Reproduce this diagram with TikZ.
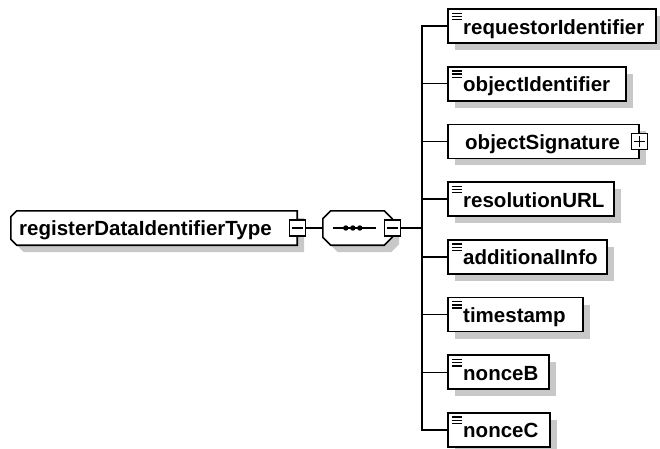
\documentclass[tikz,border=0pt]{standalone}
\usepackage{fontspec}
\setmainfont{Liberation Sans}
\usetikzlibrary{calc,shadows}
\definecolor{shadowgray}{RGB}{200,200,200}
\tikzset{
  shd/.style={drop shadow={shadow xshift=7pt, shadow yshift=-7pt, fill=shadowgray, opacity=1}},
  outline/.style={draw=black, line width=1.6pt, fill=white},
  childbox/.style={outline, shd, rectangle, anchor=west, minimum height=34pt, inner sep=0pt},
  expbox/.style={draw=black, line width=1.3pt, fill=white, rectangle, minimum size=16pt, inner sep=0pt},
  conn/.style={draw=black, line width=1.4pt},
  lbl/.style={anchor=base west, inner sep=0pt, font=\fontsize{20.5}{24}\selectfont\bfseries},
  icon/.style={draw=black, line width=1.4pt},
  ghost/.style={rectangle, inner sep=0pt, draw=none}
}
\begin{document}
\begin{tikzpicture}[x=1pt,y=-1pt]
\useasboundingbox (0,0) rectangle (660,448);
% main complex type
\node[ghost, minimum width=286pt, minimum height=34pt] (main) at (154,228) {};
\path[outline, shd] ($(main.north west)+(6,0)$) -- (main.north east) -- (main.south east)
  -- ($(main.south west)+(6,0)$) -- ($(main.south west)+(0,-6)$) -- ($(main.north west)+(0,6)$) -- cycle;
\node[lbl] (mainlbl) at (19,235.5) {registerDataIdentifierType};
\node[expbox] (m1) at (main.east) {};
\draw[line width=1.3pt] ($(m1.west)+(3,0)$) -- ($(m1.east)+(-3,0)$);
% sequence
\node[ghost, minimum width=69pt, minimum height=34pt] (seq) at (357.5,228) {};
\path[outline, shd] ($(seq.north west)+(8,0)$) -- ($(seq.north east)+(-8,0)$) -- ($(seq.north east)+(0,8)$)
  -- ($(seq.south east)+(0,-8)$) -- ($(seq.south east)+(-8,0)$) -- ($(seq.south west)+(8,0)$)
  -- ($(seq.south west)+(0,-8)$) -- ($(seq.north west)+(0,8)$) -- cycle;
\draw[line width=1.4pt] ($(seq.west)+(10,0)$) -- ($(seq.east)+(-16,0)$);
\foreach \dx in {23,30,37} \fill ($(seq.west)+(\dx,0)$) circle (2.7pt);
\node[expbox] (m2) at (seq.east) {};
\draw[line width=1.3pt] ($(m2.west)+(3,0)$) -- ($(m2.east)+(-3,0)$);
\draw[conn] (m1.east) -- (seq.west);
\coordinate (spine) at (422,228);
\draw[conn] (m2.east) -- (spine);
% children
\node[childbox, minimum width=208pt] (c1) at (447,26) {};
\node[childbox, minimum width=178pt] (c2) at (447,83.7) {};
\node[childbox, minimum width=191pt] (c3) at (447,141.4) {};
\node[childbox, minimum width=166pt] (c4) at (447,199.1) {};
\node[childbox, minimum width=159pt] (c5) at (447,256.8) {};
\node[childbox, minimum width=135pt] (c6) at (447,314.5) {};
\node[childbox, minimum width=101pt] (c7) at (447,372.2) {};
\node[childbox, minimum width=102pt] (c8) at (447,429.9) {};
\node[lbl] (t1) at ($(c1.west)+(16,8)$) {requestorIdentifier};
\node[lbl] (t2) at ($(c2.west)+(16,8)$) {objectIdentifier};
\node[lbl] (t3) at ($(c3.west)+(18,8)$) {objectSignature};
\node[lbl] (t4) at ($(c4.west)+(16,8)$) {resolutionURL};
\node[lbl] (t5) at ($(c5.west)+(16,8)$) {additionalInfo};
\node[lbl] (t6) at ($(c6.west)+(16,8)$) {timestamp};
\node[lbl] (t7) at ($(c7.west)+(16,8)$) {nonceB};
\node[lbl] (t8) at ($(c8.west)+(16,8)$) {nonceC};
% element icons
\foreach \c in {c1,c2,c4,c5,c6,c7,c8} {
  \foreach \dy in {5,8.2,11.4}
    \draw[icon] ($(\c.north west)+(5,\dy)$) -- ++(10,0);
}
% expand box on objectSignature
\node[expbox] (p3) at (c3.east) {};
\draw[line width=1.3pt] ($(p3.west)+(3,0)$) -- ($(p3.east)+(-3,0)$)
  ($(p3.north)+(0,3)$) -- ($(p3.south)+(0,-3)$);
% connectors
\draw[conn] (c1.west) -- (c1.west -| spine) -- (c8.west -| spine) -- (c8.west);
\foreach \c in {c2,c3,c4,c5,c6,c7}
  \draw[conn] (spine |- \c.west) -- (\c.west);
\end{tikzpicture}
\end{document}
